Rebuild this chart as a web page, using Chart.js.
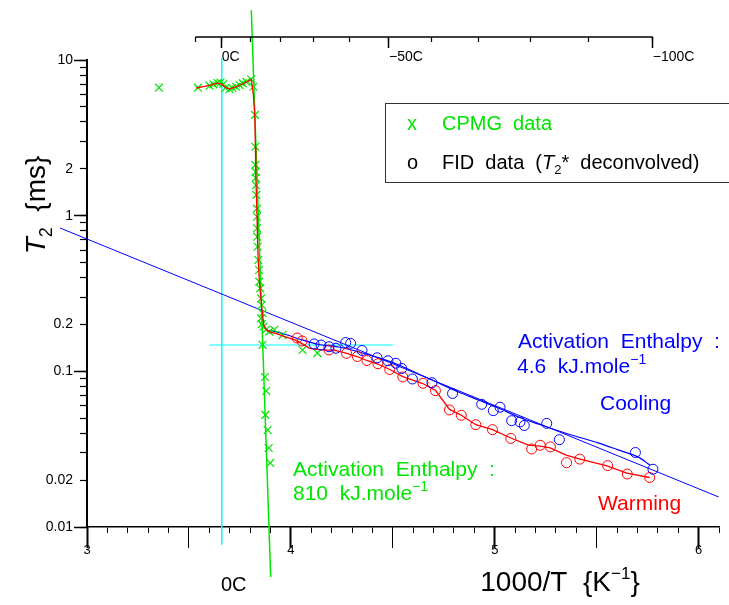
<!DOCTYPE html>
<html>
<head>
<meta charset="utf-8">
<title>T2 vs 1000/T</title>
<script src="https://cdn.jsdelivr.net/npm/chart.js"></script>
<style>
html,body{margin:0;padding:0;background:#ffffff;overflow:hidden;}
canvas{display:block;}
</style>
</head>
<body>
<canvas id="chart" width="729" height="605"></canvas>
<script>
// ---------------- DATA ----------------
// CPMG data (green x): 1000/T and T2 (ms)
const cpmgInvT = [3.353, 3.544, 3.601, 3.620, 3.640, 3.655, 3.669, 3.679, 3.699, 3.713, 3.731, 3.748, 3.764, 3.782, 3.805, 3.816,
  3.824, 3.826, 3.826, 3.827, 3.828, 3.829, 3.831, 3.834, 3.834, 3.834, 3.835, 3.837, 3.840, 3.844, 3.845, 3.850, 3.854, 3.857,
  3.861, 3.854, 3.857, 3.866, 3.878, 3.894, 3.919, 3.959, 3.861, 4.057, 4.130, 3.873, 3.879, 3.875, 3.886, 3.891, 3.899];
const cpmgT2 = [6.64, 6.64, 6.84, 6.97, 7.11, 7.16, 7.01, 6.61, 6.49, 6.61, 6.73, 6.90, 7.08, 7.23, 7.52, 6.73,
  4.44, 2.77, 2.12, 1.91, 1.75, 1.57, 1.36, 1.11, 0.984, 0.830, 0.733, 0.632, 0.519, 0.448, 0.377, 0.341, 0.294, 0.267,
  0.236, 0.219, 0.201, 0.194, 0.185, 0.180, 0.185, 0.171, 0.148, 0.137, 0.131, 0.092, 0.0748, 0.0525, 0.0420, 0.0322, 0.0258];

// Warming (red) smoothing curve
const warmFitInvT = [3.536, 3.577, 3.611, 3.640, 3.660, 3.679, 3.699, 3.728, 3.762, 3.806, 3.816, 3.823, 3.826, 3.828, 3.831,
  3.834, 3.836, 3.840, 3.845, 3.853, 3.860, 3.867, 3.880, 3.904, 3.933, 3.977, 4.026, 4.065, 4.090, 4.124, 4.173, 4.212,
  4.270, 4.324, 4.373, 4.427, 4.485, 4.549, 4.647, 4.710, 4.778, 4.836, 4.907, 4.989, 5.079, 5.165, 5.223, 5.272, 5.350,
  5.419, 5.550, 5.648, 5.760];
const warmFitT2 = [6.61, 6.76, 6.91, 7.11, 7.01, 6.66, 6.51, 6.71, 7.01, 7.50, 5.96, 4.43, 2.76, 1.82, 1.36,
  0.995, 0.729, 0.519, 0.386, 0.296, 0.237, 0.199, 0.184, 0.178, 0.174, 0.166, 0.158, 0.148, 0.141, 0.1385, 0.137, 0.137,
  0.131, 0.1245, 0.1174, 0.1114, 0.1027, 0.0926, 0.0835, 0.0753, 0.0569, 0.0522, 0.0454, 0.0422, 0.0373, 0.0336, 0.0331,
  0.0322, 0.0290, 0.0273, 0.0247, 0.0222, 0.0208];

// FID data, warming (red circles)
const warmInvT = [4.031, 4.055, 4.187, 4.273, 4.326, 4.373, 4.427, 4.485, 4.549, 4.648, 4.709, 4.778, 4.836, 4.907, 4.989,
  5.079, 5.181, 5.223, 5.273, 5.352, 5.417, 5.554, 5.650, 5.760];
const warmT2 = [0.1637, 0.1567, 0.1371, 0.1306, 0.1245, 0.1174, 0.1119, 0.1027, 0.0920, 0.0838, 0.0751, 0.0565, 0.0522,
  0.0454, 0.0422, 0.0371, 0.0317, 0.0335, 0.0327, 0.0259, 0.0273, 0.0248, 0.0219, 0.0208];

// FID data, cooling (blue circles)
const coolInvT = [4.114, 4.148, 4.187, 4.221, 4.269, 4.293, 4.349, 4.423, 4.476, 4.515, 4.544, 4.596, 4.692, 4.793, 4.936,
  4.993, 5.026, 5.083, 5.124, 5.145, 5.255, 5.317, 5.690, 5.776];
const coolT2 = [0.1499, 0.1476, 0.1439, 0.1406, 0.1531, 0.1513, 0.1361, 0.1222, 0.1169, 0.1127, 0.1043, 0.0893, 0.0845,
  0.0721, 0.0614, 0.0559, 0.0588, 0.0482, 0.0473, 0.0449, 0.0463, 0.0364, 0.0301, 0.0235];

// Cooling (blue) smoothing curve
const coolFitInvT = [3.884, 3.967, 4.041, 4.138, 4.236, 4.334, 4.432, 4.529, 4.627, 4.725, 4.822, 4.920, 5.018, 5.116,
  5.213, 5.360, 5.507, 5.605, 5.702, 5.761];
const coolFitT2 = [0.1843, 0.1738, 0.1614, 0.1487, 0.1433, 0.1331, 0.1219, 0.1099, 0.0961, 0.0841, 0.0737, 0.0655,
  0.0581, 0.0509, 0.0459, 0.0396, 0.0347, 0.0313, 0.0282, 0.0250];

// Activation enthalpy fit lines
const fit46InvT = [2.868, 6.098];
const fit46T2 = [0.833, 0.0156];
const fit810InvT = [3.806, 3.901];
const fit810T2 = [20.9, 0.00477];

// Reference lines (0 C vertical, horizontal marker)
const zeroCInvT = [1000 / 273.15, 1000 / 273.15];
const zeroCT2 = [10.3, 0.0077];
const refInvT = [3.6, 4.5];
const refT2 = [0.1476, 0.1476];

// Ticks and labels
const xLabelValues = [3, 4, 5, 6];
const xTickLabels = ['3', '4', '5', '6'];
const xMajorValues = [3, 3.5, 4, 4.5, 5, 5.5, 6];
const yLabelValues = [0.01, 0.02, 0.1, 0.2, 1, 2, 10];
const yTickLabels = ['0.01', '0.02', '0.1', '0.2', '1', '2', '10'];
const yDecades = [0.01, 0.1, 1, 10];
const topTempsC = [10, 0, -10, -20, -30, -40, -50, -60, -70, -80, -90, -100];
const topLabelTempsC = [0, -50, -100];
const topTickLabels = ['0C', '\u221250C', '\u2212100C'];

// ---------------- STYLE ----------------
const FONT = "'Liberation Sans', Arial, Helvetica, sans-serif";
const BLACK = '#000000';
const GREEN = '#00e600';
const RED = '#ff0000';
const BLUE = '#0000ff';
const CYAN = '#00ffff';
const X_MIN = 3, X_MAX = 6.1, Y_MIN = 0.01, Y_MAX = 10;
const TOP_AXIS_LEVEL = 14.05;

const pts = (xs, ys) => xs.map((x, i) => ({x: x, y: ys[i]}));
const toInv = t => 1000 / (273.15 + t);
const xMinorValues = [];
for (let i = 30; i <= 61; i++) xMinorValues.push(i / 10);
const yTickValues = [];
[0.01, 0.1, 1].forEach(d => { for (let m = 1; m <= 9; m++) yTickValues.push(Number((m * d).toPrecision(3))); });
yTickValues.push(10);
const near = (a, b) => Math.abs(a - b) < 1e-6 * Math.max(1, Math.abs(b));
const labelOf = (v, vals, labs) => { const i = vals.findIndex(w => near(v, w)); return i >= 0 ? labs[i] : ''; };
const setTicks = vals => (s => { s.ticks = vals.map(v => ({value: v})); });

const lineDs = (label, xs, ys, color, width, order, extra) => Object.assign({
  label: label, data: pts(xs, ys), showLine: true, borderColor: color, borderWidth: width,
  pointRadius: 0, pointHoverRadius: 0, fill: false, clip: false, tension: 0, order: order
}, extra || {});

// ---------------- TEXT PLUGIN ----------------
function drawRuns(ctx, runs, x, y, color, align) {
  const f = r => (r.italic ? 'italic ' : '') + r.size + 'px ' + FONT;
  let w = 0;
  runs.forEach(r => { ctx.font = f(r); r.w = ctx.measureText(r.t).width; w += r.w; });
  let cx = align === 'center' ? x - w / 2 : x;
  ctx.fillStyle = color;
  ctx.textAlign = 'left';
  ctx.textBaseline = 'alphabetic';
  runs.forEach(r => { ctx.font = f(r); ctx.fillText(r.t, cx, y + (r.dy || 0)); cx += r.w; });
}

const textPlugin = {
  id: 'texts',
  afterDraw(chart) {
    const ctx = chart.ctx;
    ctx.save();
    // legend box
    ctx.strokeStyle = '#333333';
    ctx.lineWidth = 1;
    ctx.strokeRect(385.5, 103.5, 360, 79);
    drawRuns(ctx, [{t: 'x', size: 20}], 407, 130, GREEN);
    drawRuns(ctx, [{t: 'CPMG  data', size: 20}], 442, 130, GREEN);
    drawRuns(ctx, [{t: 'o', size: 20}], 407, 169, BLACK);
    drawRuns(ctx, [{t: 'FID  data  (', size: 20}, {t: 'T', size: 20, italic: true}, {t: '2', size: 13, dy: 5},
      {t: '*', size: 20}, {t: '  deconvolved)', size: 20}], 442, 169, BLACK);

    // annotations
    drawRuns(ctx, [{t: 'Activation  Enthalpy  :', size: 21}], 518, 348, BLUE);
    drawRuns(ctx, [{t: '4.6  kJ.mole', size: 21}, {t: '\u22121', size: 14, dy: -9}], 517, 373, BLUE);
    drawRuns(ctx, [{t: 'Cooling', size: 21}], 600, 410, BLUE);
    drawRuns(ctx, [{t: 'Activation  Enthalpy  :', size: 21}], 293, 476, GREEN);
    drawRuns(ctx, [{t: '810  kJ.mole', size: 21}, {t: '\u22121', size: 14, dy: -9}], 293, 500, GREEN);
    drawRuns(ctx, [{t: 'Warming', size: 21}], 598, 510, RED);
    drawRuns(ctx, [{t: '0C', size: 20}], 221, 591, BLACK);

    // axis titles
    drawRuns(ctx, [{t: '1000/T  {K', size: 28}, {t: '\u22121', size: 17, dy: -12}, {t: '}', size: 28}], 560, 591, BLACK, 'center');
    ctx.translate(35, 205);
    ctx.rotate(-Math.PI / 2);
    drawRuns(ctx, [{t: 'T', size: 28, italic: true}, {t: '2', size: 18, dy: 7}, {t: '  {ms}', size: 28}], 0, 10, BLACK, 'center');
    ctx.restore();
  }
};

// ---------------- CHART ----------------
new Chart(document.getElementById('chart'), {
  type: 'scatter',
  data: {
    datasets: [
      lineDs('0C', zeroCInvT, zeroCT2, CYAN, 1.5, 12),
      lineDs('ref', refInvT, refT2, CYAN, 1.2, 11),
      lineDs('810 kJ/mole', fit810InvT, fit810T2, GREEN, 1.5, 10),
      lineDs('4.6 kJ/mole', fit46InvT, fit46T2, BLUE, 1, 9),
      lineDs('top axis', [toInv(10), toInv(-100)], [TOP_AXIS_LEVEL, TOP_AXIS_LEVEL], BLACK, 1.5, 8),
      lineDs('cooling fit', coolFitInvT, coolFitT2, BLUE, 1.2, 7, {tension: 0.3}),
      {label: 'CPMG data', data: pts(cpmgInvT, cpmgT2), showLine: false, pointStyle: 'crossRot', pointRadius: 5.5,
        pointHoverRadius: 5.5, pointBorderColor: GREEN, pointBackgroundColor: GREEN, pointBorderWidth: 1.2, clip: false, order: 6},
      lineDs('warming fit', warmFitInvT, warmFitT2, RED, 1.3, 5),
      {label: 'Warming', data: pts(warmInvT, warmT2), showLine: false, pointStyle: 'circle', pointRadius: 5,
        pointHoverRadius: 5, pointBorderColor: RED, pointBackgroundColor: 'rgba(0,0,0,0)', pointBorderWidth: 1, clip: false, order: 4},
      {label: 'Cooling', data: pts(coolInvT, coolT2), showLine: false, pointStyle: 'circle', pointRadius: 5,
        pointHoverRadius: 5, pointBorderColor: BLUE, pointBackgroundColor: 'rgba(0,0,0,0)', pointBorderWidth: 1, clip: false, order: 3}
    ]
  },
  options: {
    responsive: false,
    maintainAspectRatio: false,
    devicePixelRatio: 1,
    animation: false,
    events: [],
    layout: {padding: {top: 60, right: 7.5, left: 0, bottom: 0}},
    plugins: {legend: {display: false}, tooltip: {enabled: false}, title: {display: false}},
    scales: {
      x: {
        type: 'linear', position: 'bottom', min: X_MIN, max: X_MAX,
        afterBuildTicks: setTicks(xMinorValues),
        afterFit: s => { s.height = 78; },
        ticks: {autoSkip: false, maxRotation: 0, minRotation: 0, padding: 10, color: BLACK,
          font: {family: FONT, size: 13}, callback: v => labelOf(v, xLabelValues, xTickLabels)},
        grid: {display: true, drawOnChartArea: false, drawTicks: true, tickLength: 6, tickColor: BLACK, tickWidth: 1},
        border: {display: true, color: BLACK, width: 1.5}
      },
      xMaj: {
        type: 'linear', axis: 'x', position: {y: Y_MIN}, min: X_MIN, max: X_MAX,
        afterBuildTicks: setTicks(xMajorValues),
        ticks: {display: false},
        grid: {display: true, drawOnChartArea: false, drawTicks: true, tickLength: 21, tickColor: BLACK,
          tickWidth: c => (c.tick && Number.isInteger(c.tick.value)) ? 2 : 1},
        border: {display: false}
      },
      xTop: {
        type: 'linear', axis: 'x', position: {y: TOP_AXIS_LEVEL}, min: X_MIN, max: X_MAX,
        afterBuildTicks: setTicks(topTempsC.map(toInv)),
        ticks: {display: false},
        grid: {display: true, drawOnChartArea: false, drawTicks: true, tickLength: 5, tickColor: BLACK, tickWidth: 1.2},
        border: {display: false}
      },
      xTopMaj: {
        type: 'linear', axis: 'x', position: {y: TOP_AXIS_LEVEL}, min: X_MIN, max: X_MAX,
        afterBuildTicks: setTicks(topLabelTempsC.map(toInv)),
        ticks: {display: true, autoSkip: false, maxRotation: 0, minRotation: 0, align: 'start', padding: 1, color: BLACK,
          font: {family: FONT, size: 14}, callback: (v, i) => topTickLabels[i]},
        grid: {display: true, drawOnChartArea: false, drawTicks: true, tickLength: 11, tickColor: BLACK, tickWidth: 1.5},
        border: {display: false}
      },
      y: {
        type: 'logarithmic', position: 'left', min: Y_MIN, max: Y_MAX,
        afterBuildTicks: setTicks(yTickValues),
        afterFit: s => { s.width = 87; },
        ticks: {autoSkip: false, padding: 7, color: BLACK, font: {family: FONT, size: 14},
          callback: v => labelOf(v, yLabelValues, yTickLabels)},
        grid: {display: true, drawOnChartArea: false, drawTicks: true, tickLength: 7, tickColor: BLACK, tickWidth: 1.2},
        border: {display: true, color: BLACK, width: 2}
      },
      yMaj: {
        type: 'logarithmic', axis: 'y', position: {x: X_MIN}, min: Y_MIN, max: Y_MAX,
        afterBuildTicks: setTicks(yDecades),
        ticks: {display: false},
        grid: {display: true, drawOnChartArea: false, drawTicks: true, tickLength: 13, tickColor: BLACK, tickWidth: 1.5},
        border: {display: false}
      }
    }
  },
  plugins: [textPlugin]
});
</script>
</body>
</html>
